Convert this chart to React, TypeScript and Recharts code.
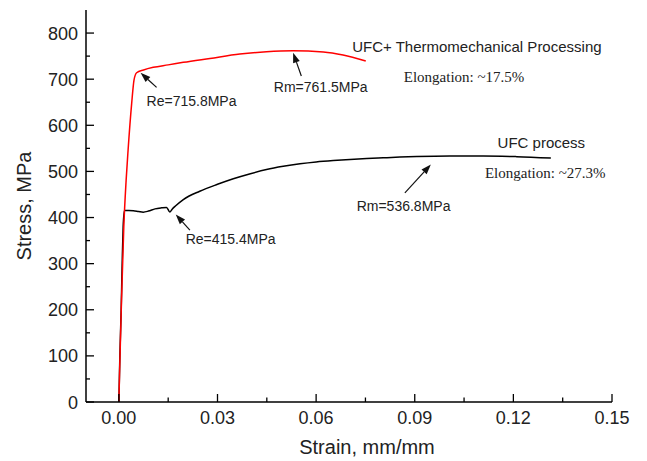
import { LineChart, Line, XAxis, YAxis, ReferenceLine, ReferenceDot, Label } from "recharts";

// UFC process (black)
const ufcStrain = [
  0, 0.0003, 0.0007, 0.001, 0.0013, 0.0017, 0.003, 0.0044, 0.006, 0.0074, 0.009, 0.011, 0.013,
  0.0145, 0.0155, 0.0162, 0.0172, 0.0196, 0.0246, 0.03, 0.0348, 0.04, 0.0449, 0.05, 0.0551, 0.06,
  0.0652, 0.0703, 0.0754, 0.0804, 0.0855, 0.0906, 0.1007, 0.1108, 0.121, 0.1314,
];
const ufcStress = [
  0, 100, 200, 300, 380, 415, 415, 414.5, 413, 411.7, 414, 418.8, 421, 422, 412, 418, 425, 439,
  457, 472, 484, 495, 504, 511, 516.5, 520.5, 523.5, 525.8, 527.8, 529.4, 531, 532.3, 533.5, 533.5,
  532, 529,
];

// UFC + thermomechanical processing (red)
const tmpStrain = [
  0, 0.0002, 0.0008, 0.0015, 0.0022, 0.0028, 0.0039, 0.0046, 0.0054, 0.0075, 0.01045, 0.015,
  0.0196, 0.0277, 0.0368, 0.0449, 0.053, 0.0622, 0.0682, 0.0751,
];
const tmpStress = [
  0, 60, 220, 380, 480, 546, 648, 698, 714, 720, 725.7, 731, 736.5, 745, 754.5, 759.5, 761.5, 759,
  752.4, 739.4,
];

const xTicks = [0, 0.015, 0.03, 0.045, 0.06, 0.075, 0.09, 0.105, 0.12, 0.135, 0.15];
const yTicks = [0, 50, 100, 150, 200, 250, 300, 350, 400, 450, 500, 550, 600, 650, 700, 750, 800];

const notes = [
  { text: "UFC+ Thermomechanical Processing", x: 0.1089, y: 770, serif: false, size: 15 },
  { text: "Elongation: ~17.5%", x: 0.105, y: 705, serif: true, size: 15 },
  { text: "Rm=761.5MPa", x: 0.0614, y: 683.6, serif: false, size: 14 },
  { text: "Re=715.8MPa", x: 0.0221, y: 652.6, serif: false, size: 14 },
  { text: "UFC process", x: 0.1285, y: 562, serif: false, size: 15 },
  { text: "Elongation: ~27.3%", x: 0.1297, y: 496.3, serif: true, size: 15 },
  { text: "Rm=536.8MPa", x: 0.0866, y: 424.7, serif: false, size: 14 },
  { text: "Re=415.4MPa", x: 0.034, y: 352.4, serif: false, size: 14 },
];

const arrows = [
  { x1: 0.0555, y1: 706.8, x2: 0.053, y2: 757.4 },
  { x1: 0.01147, y1: 682.3, x2: 0.0066, y2: 714 },
  { x1: 0.087, y1: 453.6, x2: 0.0949, y2: 515.2 },
  { x1: 0.0216, y1: 372.6, x2: 0.0173, y2: 406.7 },
];

const ufcData = ufcStrain.map((x, i) => ({ x, y: ufcStress[i] }));
const tmpData = tmpStrain.map((x, i) => ({ x, y: tmpStress[i] }));

const SANS = "'Liberation Sans', Arial, sans-serif";
const SERIF = "'Liberation Serif', 'Times New Roman', serif";

const isMajorX = (v: number) => Math.round(v * 1000) % 30 === 0;
const isMajorY = (v: number) => v % 100 === 0;

function BottomTick({ x, y, payload }: any) {
  const major = isMajorX(payload.value);
  return (
    <g>
      <line x1={x} x2={x} y1={y} y2={y - (major ? 8 : 4.5)} stroke="#000" strokeWidth={1.3} />
      {major && (
        <text x={x} y={y + 22} textAnchor="middle" fontSize={18} fontFamily={SANS} fill="#222">
          {payload.value.toFixed(2)}
        </text>
      )}
    </g>
  );
}

function TopTick({ x, y, payload }: any) {
  const major = isMajorX(payload.value);
  return <line x1={x} x2={x} y1={y} y2={y + (major ? 8 : 4.5)} stroke="#000" strokeWidth={1.3} />;
}

function LeftTick({ x, y, payload }: any) {
  const major = isMajorY(payload.value);
  return (
    <g>
      <line x1={x} x2={x + (major ? 8 : 4)} y1={y} y2={y} stroke="#000" strokeWidth={1.3} />
      {major && (
        <text x={x - 8} y={y + 6.5} textAnchor="end" fontSize={18} fontFamily={SANS} fill="#222">
          {payload.value}
        </text>
      )}
    </g>
  );
}

function RightTick({ x, y, payload }: any) {
  const major = isMajorY(payload.value);
  return <line x1={x} x2={x - (major ? 8 : 4)} y1={y} y2={y} stroke="#000" strokeWidth={1.3} />;
}

function Arrow(props: any) {
  const { x1, y1, x2, y2 } = props;
  const dx = x2 - x1;
  const dy = y2 - y1;
  const len = Math.sqrt(dx * dx + dy * dy) || 1;
  const ux = dx / len;
  const uy = dy / len;
  const hl = 10;
  const hw = 3.5;
  const bx = x2 - ux * hl;
  const by = y2 - uy * hl;
  return (
    <g>
      <line x1={x1} y1={y1} x2={bx} y2={by} stroke="#111" strokeWidth={1.2} />
      <polygon
        points={`${x2},${y2} ${bx - uy * hw},${by + ux * hw} ${bx + uy * hw},${by - ux * hw}`}
        fill="#111"
      />
    </g>
  );
}

export default function App() {
  return (
    <div style={{ position: "fixed", top: 0, left: 0, width: 647, height: 461, background: "#fff" }}>
      <LineChart width={647} height={461} data={ufcData} margin={{ top: 10, right: 35, bottom: 0, left: 0 }}>
        <XAxis
          type="number"
          dataKey="x"
          domain={[-0.01, 0.15]}
          ticks={xTicks}
          interval={0}
          allowDataOverflow
          height={59}
          tickSize={0}
          tickMargin={0}
          tick={<BottomTick />}
          axisLine={{ stroke: "#000", strokeWidth: 1.5 }}
        >
          <Label
            content={({ viewBox }: any) => (
              <text
                x={viewBox.x + viewBox.width / 2 + 18}
                y={viewBox.y + 52}
                textAnchor="middle"
                fontSize={20}
                fontFamily={SANS}
                fill="#222"
              >
                Strain, mm/mm
              </text>
            )}
          />
        </XAxis>
        <XAxis
          xAxisId="top"
          orientation="top"
          type="number"
          dataKey="x"
          domain={[-0.01, 0.15]}
          ticks={xTicks}
          interval={0}
          allowDataOverflow
          height={0}
          tickSize={0}
          tickMargin={0}
          tick={<TopTick />}
          axisLine={{ stroke: "#000", strokeWidth: 1.5 }}
        />
        <YAxis
          type="number"
          domain={[0, 850]}
          ticks={yTicks}
          interval={0}
          allowDataOverflow
          width={86}
          tickSize={0}
          tickMargin={0}
          tick={<LeftTick />}
          axisLine={{ stroke: "#000", strokeWidth: 1.5 }}
        >
          <Label
            content={({ viewBox }: any) => {
              const cx = viewBox.x + 24;
              const cy = viewBox.y + viewBox.height / 2;
              return (
                <text
                  x={cx}
                  y={cy}
                  dy={7}
                  transform={`rotate(-90 ${cx} ${cy})`}
                  textAnchor="middle"
                  fontSize={20}
                  fontFamily={SANS}
                  fill="#222"
                >
                  Stress, MPa
                </text>
              );
            }}
          />
        </YAxis>
        <YAxis
          yAxisId="right"
          orientation="right"
          type="number"
          domain={[0, 850]}
          ticks={yTicks}
          interval={0}
          allowDataOverflow
          width={0}
          tickSize={0}
          tickMargin={0}
          tick={<RightTick />}
          axisLine={{ stroke: "#000", strokeWidth: 1.5 }}
        />
        <Line
          data={ufcData}
          dataKey="y"
          type="monotoneX"
          stroke="#000"
          strokeWidth={1.5}
          dot={false}
          isAnimationActive={false}
        />
        <Line
          data={tmpData}
          dataKey="y"
          type="monotoneX"
          stroke="#ff0000"
          strokeWidth={1.5}
          dot={false}
          isAnimationActive={false}
        />
        {arrows.map((a, i) => (
          <ReferenceLine
            key={"a" + i}
            segment={[
              { x: a.x1, y: a.y1 },
              { x: a.x2, y: a.y2 },
            ]}
            shape={(p: any) => <Arrow {...p} />}
          />
        ))}
        {notes.map((n, i) => (
          <ReferenceDot
            key={"n" + i}
            x={n.x}
            y={n.y}
            r={1}
            shape={(p: any) => (
              <text
                x={p.cx}
                y={p.cy}
                dy="0.35em"
                textAnchor="middle"
                fontSize={n.size}
                fontFamily={n.serif ? SERIF : SANS}
                fill="#222"
              >
                {n.text}
              </text>
            )}
          />
        ))}
      </LineChart>
    </div>
  );
}
